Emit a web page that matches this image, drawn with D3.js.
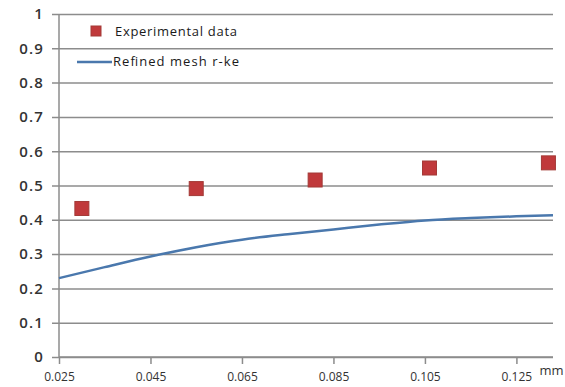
<!DOCTYPE html>
<html>
<head>
<meta charset="utf-8">
<script src="https://cdn.jsdelivr.net/npm/d3@7"></script>
<style>
  html, body { margin: 0; padding: 0; background: #fff; }
  svg { display: block; font-family: "Open Sans", "DejaVu Sans", sans-serif; }
  .ylab { font-size: 15px; font-weight: 600; letter-spacing: 1.2px; }
  .xlab { font-size: 12px; font-weight: 500; }
</style>
</head>
<body>
<svg id="chart" width="565" height="387"></svg>
<script>
// Experimental measurements (diameter in mm vs. value)
const expX = [0.030, 0.055, 0.081, 0.106, 0.132];
const expY = [0.433, 0.491, 0.516, 0.551, 0.566];

// Simulation curve, refined mesh with realizable k-epsilon
const simX = [0.025, 0.035, 0.045, 0.055, 0.065, 0.075, 0.085, 0.095, 0.105, 0.115, 0.125, 0.133];
const simY = [0.230, 0.262, 0.293, 0.320, 0.342, 0.358, 0.372, 0.386, 0.398, 0.405, 0.410, 0.413];

const xTicks = [0.025, 0.045, 0.065, 0.085, 0.105, 0.125];
const yTicks = [0, 0.1, 0.2, 0.3, 0.4, 0.5, 0.6, 0.7, 0.8, 0.9, 1];

const seriesNames = ["Experimental data", "Refined mesh r-ke"];
const unitLabel = "mm";

const svg = d3.select("#chart");
const plotLeft = 59, plotRight = 553, plotTop = 14, plotBottom = 357;

const x = d3.scaleLinear().domain([0.025, 0.133]).range([plotLeft, plotRight]);
const y = d3.scaleLinear().domain([0, 1]).range([plotBottom, plotTop]);

const gridColor = "#8c8c8c";
const textColor = "#333333";

// Horizontal gridlines (extend left of the axis as ticks)
const yAxis = d3.axisLeft(y).tickValues(yTicks)
  .tickSize(0).tickPadding(10)
  .tickFormat(d => String(+d.toFixed(1)));
const gy = svg.append("g")
  .attr("transform", `translate(${plotLeft - 7},0)`)
  .call(yAxis);
gy.attr("font-family", null).attr("font-size", null);
gy.select(".domain").remove();
gy.selectAll(".tick line").attr("stroke", gridColor).attr("stroke-width", 1.5)
  .attr("x1", 0).attr("x2", plotRight - plotLeft + 7);
gy.selectAll(".tick text").attr("class", "ylab").attr("fill", textColor).attr("x", -8);

// Vertical axis line
svg.append("line")
  .attr("x1", plotLeft).attr("x2", plotLeft).attr("y1", plotTop).attr("y2", plotBottom)
  .attr("stroke", gridColor).attr("stroke-width", 1.5);

// X axis with downward ticks
const xAxis = d3.axisBottom(x).tickValues(xTicks).tickSize(7).tickPadding(8)
  .tickFormat(d3.format(".3f"));
const gx = svg.append("g")
  .attr("transform", `translate(0,${plotBottom})`)
  .call(xAxis);
gx.attr("font-family", null).attr("font-size", null);
gx.select(".domain").attr("stroke", gridColor).attr("stroke-width", 1.5)
  .attr("d", `M${plotLeft},0H${plotRight}`);
gx.selectAll(".tick line").attr("stroke", gridColor).attr("stroke-width", 1.5);
gx.selectAll(".tick text").attr("class", "xlab").attr("fill", textColor);

// Unit label at the end of the x axis
svg.append("text")
  .attr("x", x(0.125) + 23).attr("y", plotBottom + 18)
  .attr("fill", textColor).style("font-size", "13px")
  .text(unitLabel);

// Simulation line
const line = d3.line().x((d, i) => x(simX[i])).y(d => y(d)).curve(d3.curveMonotoneX);
svg.append("path")
  .datum(simY)
  .attr("d", line)
  .attr("fill", "none")
  .attr("stroke", "#4a78ad")
  .attr("stroke-width", 2.5);

// Experimental markers
const ms = 14;
svg.append("g").selectAll("rect")
  .data(expY)
  .join("rect")
  .attr("x", (d, i) => x(expX[i]) - ms / 2)
  .attr("y", d => y(d) - ms / 2)
  .attr("width", ms).attr("height", ms)
  .attr("fill", "#c0393b")
  .attr("stroke", "#a33a37").attr("stroke-width", 1);

// Legend
const lg = svg.append("g").style("font-size", "13px").style("font-weight", 500).attr("fill", "#1a1a1a");
lg.append("rect").attr("x", 91).attr("y", 26).attr("width", 10).attr("height", 10)
  .attr("fill", "#c0393b").attr("stroke", "#a33a37");
lg.append("text").attr("x", 115).attr("y", 35.5).attr("textLength", 122)
  .text(seriesNames[0]);
lg.append("line").attr("x1", 77).attr("x2", 112).attr("y1", 62).attr("y2", 62)
  .attr("stroke", "#4a78ad").attr("stroke-width", 2.5);
lg.append("text").attr("x", 113).attr("y", 66).attr("textLength", 126)
  .text(seriesNames[1]);
</script>
</body>
</html>
